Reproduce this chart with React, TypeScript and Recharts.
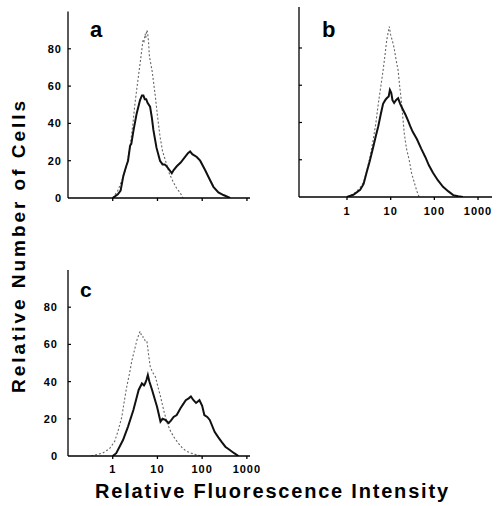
import React from "react";
import { Line, LineChart, XAxis, YAxis } from "recharts";

const xTicks = [1, 10, 100, 1000];
const yTicks = [0, 20, 40, 60, 80];

// panel a
const aCellsX = [1, 1.3, 1.5, 1.73, 2.0, 2.2, 2.44, 2.6, 2.9, 3.44, 4.08, 4.5, 4.84, 5.2, 5.6, 6.0, 6.83, 7.5, 8.1, 9.5, 11.4, 13, 14.5, 16.1, 18.5, 20.9, 23, 27, 33, 41.4, 48, 53.6, 60, 75.6, 90, 116, 140, 178, 230, 298, 420];
const aCellsY = [0, 2, 4, 12, 17, 20, 28, 29, 36, 45.5, 52.5, 55, 55, 53, 53, 51, 49, 43, 36.5, 27, 20, 18, 18, 17, 15, 13.3, 15, 17, 19, 22, 24, 25, 23.5, 22, 20, 15, 11, 6, 3, 1.6, 0];
const aCtrlX = [1, 1.3, 1.73, 2.1, 2.44, 2.8, 3.15, 3.6, 4.08, 4.5, 4.76, 5.0, 5.3, 5.5, 5.75, 6.0, 6.3, 6.6, 7.6, 8.9, 10, 11.4, 13, 15.6, 18.5, 22.3, 27, 32, 37];
const aCtrlY = [0, 4, 11.4, 19, 27.5, 39, 51, 62, 72, 80, 85, 84, 88, 86, 90, 89, 84, 76, 68, 55, 44, 33, 25, 19, 13, 8.8, 5, 3, 0];

// panel b
const bCellsX = [1, 1.4, 2.0, 2.4, 2.8, 3.3, 4.0, 4.6, 5.2, 6.0, 6.7, 7.5, 8.1, 9.0, 9.6, 10.3, 11, 12, 13.2, 14.8, 16.5, 19, 22, 25, 28, 32, 40, 50, 62, 75, 93, 120, 158, 210, 270, 350, 450];
const bCellsY = [0, 1.2, 3.8, 7, 13, 19, 27, 33, 38, 45, 50, 52, 53, 54, 57.5, 56, 52, 50.5, 52, 53, 50, 47, 44, 41, 38, 35, 31, 26, 21.5, 17, 13, 9, 5.5, 3, 1, 0.4, 0];
const bCtrlX = [1, 1.4, 2.0, 2.4, 2.8, 3.4, 4.0, 4.6, 5.2, 6.0, 6.7, 7.4, 8.1, 8.7, 9.3, 10, 10.9, 12, 13, 14.8, 16, 17.5, 20.5, 23, 26.5, 30, 35, 40, 45];
const bCtrlY = [0, 1.5, 5, 8, 13.5, 22, 31, 40, 50, 60, 68, 76, 84, 88, 91.5, 87, 84, 80, 75, 68, 60, 52, 34, 26, 20, 13, 7.5, 3, 0];

// panel c
const cCellsX = [1.0, 1.2, 1.7, 2.2, 2.9, 3.4, 3.8, 4.5, 5.0, 5.3, 5.7, 6.1, 6.6, 7.6, 8.6, 9.8, 11.7, 13, 15, 17.8, 20, 23, 27, 33, 38, 43, 50, 56, 64, 73, 87, 100, 112, 130, 148, 190, 230, 270, 330, 415, 520, 650];
const cCellsY = [0, 1.5, 8.6, 15.8, 24.7, 31, 35.5, 39, 38, 39, 41, 43.5, 40, 35.5, 31, 26.5, 18.5, 20, 19.4, 17.7, 19, 21, 22, 25.8, 28, 30, 31, 32, 30, 28.5, 30, 27, 22, 21, 19.4, 13, 10, 7.7, 5, 3.2, 1.5, 0];
const cCtrlX = [0.33, 0.45, 0.6, 0.85, 1.1, 1.3, 1.6, 1.8, 2.05, 2.4, 2.7, 3.0, 3.45, 3.8, 4.1, 4.5, 4.9, 5.3, 5.8, 6.3, 6.9, 7.8, 9, 10.3, 11.7, 14, 16.6, 19.5, 23, 29, 36, 45, 56, 75, 95];
const cCtrlY = [0, 0.8, 1.6, 4, 7.7, 13, 21, 29, 37, 45, 51.6, 56, 62, 65, 67, 64, 64, 62, 62, 55, 48, 45, 42.6, 37, 32, 24, 17.6, 13.5, 10.4, 7, 4.3, 2.5, 1.6, 0.6, 0];

const zip = (xs: number[], ys: number[]) => xs.map((x, i) => ({ x, y: ys[i] }));

const font = "'Liberation Sans', Arial, Helvetica, sans-serif";
const tickStyle = { fill: "#000", fontSize: 11, fontWeight: 700, fontFamily: font, letterSpacing: 1 };

type PanelProps = {
  left: number;
  top: number;
  width: number;
  height: number;
  margin: { top: number; right: number; left: number; bottom: number };
  yWidth: number;
  xHeight: number;
  xDomain: [number, number];
  yDomain: [number, number];
  xLabels: boolean;
  yLabels: boolean;
  xGap: number;
  yGap: number;
  cells: { x: number; y: number }[];
  ctrl: { x: number; y: number }[];
};

function Panel(p: PanelProps) {
  // y ticks point inward, like the original
  const yTick = (t: any) => (
    <g>
      {t.payload.value !== 0 && (
        <line x1={p.yWidth} x2={p.yWidth + 3} y1={t.y} y2={t.y} stroke="#000" strokeWidth={1.2} />
      )}
      {p.yLabels && (
        <text x={t.x} y={t.y} dy="0.36em" textAnchor="end" {...tickStyle}>
          {t.payload.value}
        </text>
      )}
    </g>
  );

  return (
    <div style={{ position: "absolute", left: p.left, top: p.top }}>
      <LineChart width={p.width} height={p.height} margin={p.margin}>
        <XAxis
          dataKey="x"
          type="number"
          scale="log"
          domain={p.xDomain}
          ticks={xTicks}
          allowDataOverflow
          interval={0}
          tickSize={3}
          tickMargin={p.xGap}
          height={p.xHeight}
          stroke="#000"
          strokeWidth={1.3}
          tick={tickStyle}
          tickFormatter={(v: number) => (p.xLabels ? String(v) : "")}
        />
        <YAxis
          dataKey="y"
          type="number"
          domain={p.yDomain}
          ticks={yTicks}
          allowDataOverflow
          interval={0}
          tickSize={3}
          tickMargin={p.yGap}
          tickLine={false}
          width={p.yWidth}
          stroke="#000"
          strokeWidth={1.3}
          tick={yTick}
        />
        <Line
          data={p.ctrl}
          dataKey="y"
          type="linear"
          dot={false}
          stroke="#666"
          strokeWidth={1.1}
          strokeDasharray="2 2"
          isAnimationActive={false}
        />
        <Line
          data={p.cells}
          dataKey="y"
          type="linear"
          dot={false}
          stroke="#111"
          strokeWidth={2}
          isAnimationActive={false}
        />
      </LineChart>
    </div>
  );
}

export default function App() {
  return (
    <div style={{ position: "absolute", left: 0, top: 0, width: 500, height: 506, background: "#fff" }}>
      <Panel
        left={0} top={0} width={260} height={220}
        margin={{ top: 11.5, right: 10, left: 0, bottom: 0 }}
        yWidth={68} xHeight={22}
        xDomain={[0.1, 1170]} yDomain={[0, 100]}
        xLabels={false} yLabels={true} xGap={6} yGap={3}
        cells={zip(aCellsX, aCellsY)} ctrl={zip(aCtrlX, aCtrlY)}
      />
      <Panel
        left={250} top={0} width={250} height={230}
        margin={{ top: 7, right: 8, left: 0, bottom: 0 }}
        yWidth={49} xHeight={33}
        xDomain={[0.0796, 2090]} yDomain={[0, 102]}
        xLabels={true} yLabels={false} xGap={7} yGap={3}
        cells={zip(bCellsX, bCellsY)} ctrl={zip(bCtrlX, bCtrlY)}
      />
      <Panel
        left={0} top={260} width={260} height={230}
        margin={{ top: 10, right: 10, left: 0, bottom: 0 }}
        yWidth={68} xHeight={34}
        xDomain={[0.1, 1175]} yDomain={[0, 100]}
        xLabels={true} yLabels={true} xGap={6} yGap={7}
        cells={zip(cCellsX, cCellsY)} ctrl={zip(cCtrlX, cCtrlY)}
      />
      <svg width={500} height={506} style={{ position: "absolute", left: 0, top: 0, pointerEvents: "none" }}>
        <g fontFamily={font} fontWeight={700} fill="#000">
          <text x={90} y={37} fontSize={22}>a</text>
          <text x={322} y={37} fontSize={22}>b</text>
          <text x={80} y={297} fontSize={21}>c</text>
          <text x={95} y={498} fontSize={20} textLength={353} lengthAdjust="spacing">
            Relative Fluorescence Intensity
          </text>
          <text
            transform="translate(25,247) rotate(-90)"
            textAnchor="middle"
            fontSize={19}
            textLength={292}
            lengthAdjust="spacing"
          >
            Relative Number of Cells
          </text>
        </g>
      </svg>
    </div>
  );
}
